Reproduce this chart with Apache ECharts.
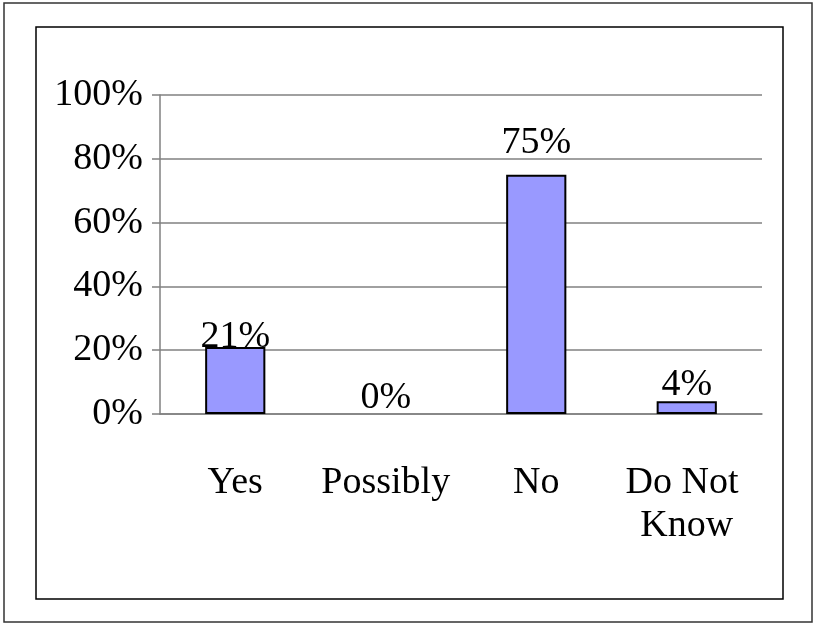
<!DOCTYPE html>
<html>
<head>
<meta charset="utf-8">
<script src="https://cdn.jsdelivr.net/npm/echarts@6/dist/echarts.min.js"></script>
<style>
  html, body { margin: 0; padding: 0; background: #fff; }
  #chart { width: 814px; height: 624px; }
</style>
</head>
<body>
<div id="chart"></div>
<script>
var categories = ['Yes', 'Possibly', 'No', 'Do Not Know'];
var percents = [21, 0, 75, 4];
var yTicks = [0, 20, 40, 60, 80, 100];

var font = '"Liberation Serif", "Times New Roman", serif';
// excel places the value labels a bit unevenly
var labelGap = [-9, -3, 13, -3];

var dom = document.getElementById('chart');
var myChart = echarts.init(dom);

var barData = percents.map(function (v, i) {
    return {
        value: v,
        itemStyle: v === 0 ? { borderWidth: 0 } : undefined,
        label: { distance: labelGap[i] }
    };
});

var option = {
    animation: false,
    backgroundColor: '#fff',
    graphic: [
        { type: 'rect', shape: { x: 4, y: 3, width: 808, height: 619 },
          style: { fill: 'none', stroke: '#333', lineWidth: 1.5 }, silent: true },
        { type: 'rect', shape: { x: 36, y: 27, width: 747, height: 572 },
          style: { fill: 'none', stroke: '#000', lineWidth: 1.5 }, silent: true }
    ],
    grid: {
        left: 160,
        right: 52,
        top: 95,
        bottom: 210
    },
    xAxis: {
        type: 'category',
        data: categories,
        axisLine: { lineStyle: { color: '#808080', width: 1.5 } },
        axisTick: { length: 11, lineStyle: { color: '#808080', width: 1.5 } },
        axisLabel: {
            margin: 48,
            color: '#000',
            fontFamily: font,
            fontSize: 38,
            lineHeight: 43,
            width: 130,
            overflow: 'break',
            interval: 0
        }
    },
    yAxis: {
        type: 'value',
        min: yTicks[0],
        max: yTicks[yTicks.length - 1],
        interval: yTicks[1] - yTicks[0],
        axisLine: { show: true, lineStyle: { color: '#808080', width: 1.5 } },
        axisTick: { show: true, length: 8, lineStyle: { color: '#808080', width: 1.5 } },
        splitLine: { lineStyle: { color: '#808080', width: 1.5 } },
        axisLabel: {
            margin: 17,
            color: '#000',
            fontFamily: font,
            fontSize: 38,
            padding: [8, 0, 0, 0],
            formatter: '{value}%'
        }
    },
    series: [
        {
            type: 'bar',
            data: barData,
            barWidth: '40%',
            itemStyle: {
                color: '#9999ff',
                borderColor: '#000',
                borderWidth: 2
            },
            label: {
                show: true,
                position: 'top',
                color: '#000',
                fontFamily: font,
                fontSize: 38,
                formatter: '{c}%'
            }
        }
    ]
};

if (option && typeof option === 'object') {
    myChart.setOption(option, true);
}
</script>
</body>
</html>
